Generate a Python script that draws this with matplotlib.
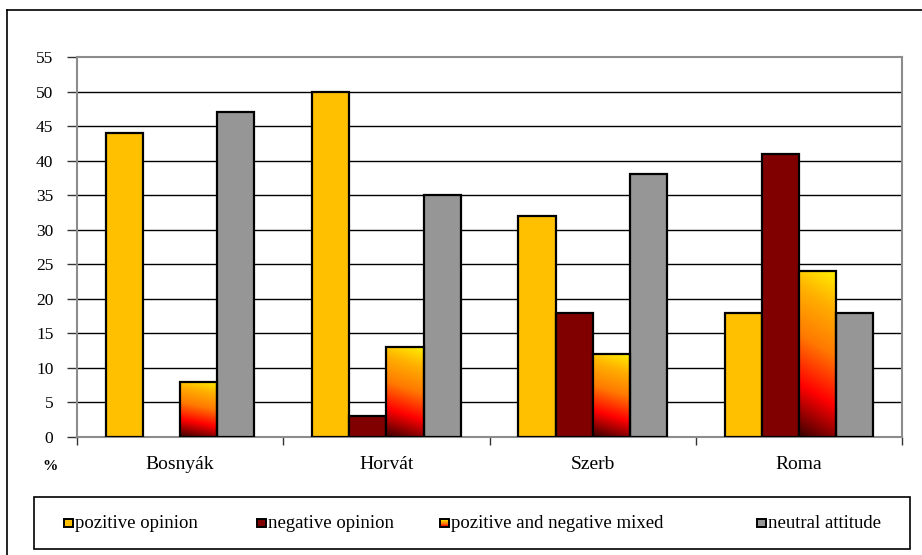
import numpy as np
import matplotlib
matplotlib.use("Agg")
import matplotlib.pyplot as plt
from matplotlib.patches import Rectangle
from matplotlib.colors import LinearSegmentedColormap

# Data
categories = ["Bosnyák", "Horvát", "Szerb", "Roma"]
series_names = ["pozitive opinion", "negative opinion",
                "pozitive and negative mixed", "neutral attitude"]
positive = [44, 50, 32, 18]
negative = [0, 3, 18, 41]
mixed = [8, 13, 12, 24]
neutral = [47, 35, 38, 18]
y_ticks = list(range(0, 56, 5))

plt.rcParams["font.family"] = ["Liberation Serif", "DejaVu Serif"]

fig = plt.figure(figsize=(9.22, 5.55), dpi=100)
W, H = 922, 555
ax = fig.add_axes([77 / W, 1 - 437 / H, (902 - 77) / W, (437 - 57) / H])

fire = LinearSegmentedColormap.from_list(
    "fire",
    [(0.0, "#3a0000"), (0.12, "#900000"), (0.28, "#ff0000"),
     (0.55, "#ff7a00"), (0.8, "#ffb000"), (1.0, "#fff000")])

n = len(categories)
x = np.arange(n)
bw = 0.18
offsets = (np.arange(4) - 1.5) * bw
colors = ["#FFC000", "#800000", None, "#969696"]
all_series = [positive, negative, mixed, neutral]

ax.set_xlim(-0.5, n - 0.5)
ax.set_ylim(0, 55)

for k, vals in enumerate(all_series):
    for i, v in enumerate(vals):
        if v <= 0:
            continue
        xl = x[i] + offsets[k] - bw / 2
        if colors[k] is not None:
            ax.add_patch(Rectangle((xl, 0), bw, v, facecolor=colors[k],
                                   edgecolor="black", linewidth=1.6, zorder=3))
        else:
            rect = Rectangle((xl, 0), bw, v, facecolor="none",
                             edgecolor="black", linewidth=1.6, zorder=4)
            ax.add_patch(rect)
            gy, gx = np.mgrid[0:1:200j, 0:1:40j]
            t = np.clip(gy * 0.88 + gx * 0.12, 0, 1)
            im = ax.imshow(t, cmap=fire, origin="lower", aspect="auto",
                           extent=(xl, xl + bw, 0, v), vmin=0, vmax=1,
                           zorder=3, interpolation="bilinear")
            im.set_clip_path(rect)

ax.set_xlim(-0.5, n - 0.5)
ax.set_ylim(0, 55)

# Gridlines
for yv in y_ticks[1:-1]:
    ax.axhline(yv, color="black", linewidth=1.0, zorder=1)

for s in ["left", "right", "top", "bottom"]:
    ax.spines[s].set_color("#8c8c8c")
    ax.spines[s].set_linewidth(1.5)

ax.set_yticks(y_ticks)
ax.set_yticklabels([str(v) for v in y_ticks])
ax.tick_params(axis="y", length=7, width=1, color="#333333", pad=10,
               labelsize=12.5)

ax.set_xticks(np.arange(-0.5, n, 1.0))
ax.set_xticklabels([])
ax.set_xticks(x, minor=True)
ax.set_xticklabels(categories, minor=True)
ax.tick_params(axis="x", which="major", length=6, width=1, color="#333333")
ax.tick_params(axis="x", which="minor", length=0, pad=14, labelsize=14)

fig.text(50 / W, 1 - 467 / H, "%", fontsize=11, fontweight="bold",
         ha="center", va="center")

# Outer frame
fig.add_artist(plt.Line2D([7 / W, 1], [1 - 10 / H, 1 - 10 / H],
                          color="black", linewidth=1.2, transform=fig.transFigure))
fig.add_artist(plt.Line2D([7 / W, 7 / W], [0, 1 - 10 / H],
                          color="black", linewidth=1.2, transform=fig.transFigure))

# Legend box
lx0, ly0, lx1, ly1 = 34 / W, 1 - 549 / H, 910 / W, 1 - 497 / H
fig.add_artist(Rectangle((lx0, ly0), lx1 - lx0, ly1 - ly0, fill=False,
                         edgecolor="black", linewidth=1.2,
                         transform=fig.transFigure))

# Legend entries: swatch left edges and text start (pixels)
swatch_x = [64, 257, 440, 757]
swatch_colors = ["#FFC000", "#800000", None, "#969696"]
sw, sh = 9, 8
ycen = 523
for name, sx, c in zip(series_names, swatch_x, swatch_colors):
    x0 = sx / W
    y0 = 1 - (ycen + sh / 2) / H
    if c is not None:
        fig.add_artist(Rectangle((x0, y0), sw / W, sh / H, facecolor=c,
                                 edgecolor="black", linewidth=1.4,
                                 transform=fig.transFigure))
    else:
        steps = 8
        for j in range(steps):
            fig.add_artist(Rectangle((x0, y0 + sh / H * j / steps), sw / W,
                                     sh / H / steps,
                                     facecolor=fire(0.25 + 0.75 * j / (steps - 1)),
                                     edgecolor="none",
                                     transform=fig.transFigure))
        fig.add_artist(Rectangle((x0, y0), sw / W, sh / H, facecolor="none",
                                 edgecolor="black", linewidth=1.4,
                                 transform=fig.transFigure))
    fig.text((sx + sw + 2) / W, 1 - ycen / H, name, fontsize=13.5,
             ha="left", va="center")

fig.savefig("out.png", dpi=100)
